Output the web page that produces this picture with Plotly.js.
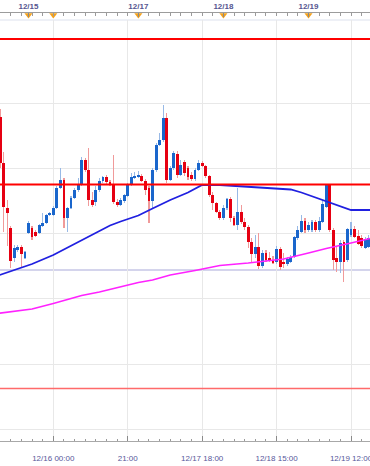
<!DOCTYPE html>
<html>
<head>
<meta charset="utf-8">
<script src="https://cdn.plot.ly/plotly-3.0.1.min.js"></script>
<style>
html,body{margin:0;padding:0;background:#ffffff;}
#chart{width:370px;height:466px;}
</style>
</head>
<body>
<div id="chart"></div>
<script>
// Hourly bars, index = hours from 12/16 00:00 (weekend gap removed)
const barStart = -15;

const opens = [109.844,109.752,109.662,109.622,109.562,109.578,109.584,109.562,109.612,109.622,
109.614,109.612,109.626,109.632,109.648,109.648,109.662,109.702,109.718,109.642,
109.662,109.682,109.698,109.708,109.758,109.738,109.678,109.674,109.698,109.716,
109.724,109.714,109.708,109.674,109.668,109.676,109.686,109.708,109.722,109.724,
109.726,109.716,109.702,109.676,109.738,109.788,109.798,109.842,109.718,109.742,
109.770,109.728,109.754,109.742,109.728,109.720,109.738,109.752,109.746,109.726,
109.688,109.672,109.654,109.642,109.662,109.680,109.642,109.628,109.654,109.634,
109.624,109.594,109.570,109.584,109.546,109.572,109.562,109.558,109.554,109.580,
109.554,109.550,109.554,109.564,109.602,109.614,109.636,109.618,109.618,109.634,
109.618,109.634,109.664,109.708,109.618,109.562,109.554,109.594,109.558,109.608,
109.620,109.606,109.602,109.582,109.584];

const highs = [109.860,109.774,109.678,109.626,109.588,109.588,109.588,109.576,109.636,109.626,
109.618,109.630,109.652,109.650,109.654,109.666,109.706,109.742,109.722,109.664,
109.686,109.702,109.722,109.764,109.762,109.782,109.694,109.706,109.722,109.726,
109.728,109.718,109.768,109.680,109.682,109.690,109.712,109.732,109.734,109.736,
109.730,109.720,109.706,109.742,109.792,109.812,109.868,109.852,109.746,109.776,
109.776,109.758,109.758,109.746,109.734,109.742,109.758,109.756,109.748,109.728,
109.694,109.674,109.658,109.668,109.682,109.684,109.646,109.702,109.668,109.642,
109.628,109.602,109.608,109.612,109.578,109.578,109.574,109.566,109.586,109.584,
109.572,109.564,109.568,109.606,109.626,109.648,109.642,109.634,109.638,109.638,
109.644,109.678,109.710,109.710,109.622,109.584,109.598,109.598,109.622,109.634,
109.626,109.618,109.608,109.604,109.608];

const lows = [109.742,109.614,109.586,109.542,109.554,109.574,109.542,109.560,109.610,109.598,
109.604,109.610,109.624,109.630,109.646,109.646,109.660,109.700,109.622,109.614,
109.660,109.680,109.694,109.706,109.734,109.666,109.664,109.666,109.694,109.712,
109.710,109.706,109.670,109.664,109.666,109.672,109.684,109.706,109.720,109.722,
109.714,109.688,109.632,109.662,109.734,109.786,109.794,109.712,109.716,109.738,
109.722,109.726,109.726,109.718,109.716,109.716,109.736,109.744,109.722,109.684,
109.658,109.652,109.638,109.638,109.658,109.634,109.626,109.618,109.630,109.618,
109.582,109.554,109.562,109.540,109.542,109.554,109.554,109.550,109.550,109.538,
109.542,109.546,109.552,109.562,109.598,109.612,109.612,109.614,109.614,109.614,
109.614,109.632,109.662,109.614,109.538,109.534,109.532,109.514,109.554,109.604,
109.602,109.588,109.582,109.580,109.582];

const closes = [109.752,109.664,109.652,109.556,109.582,109.584,109.570,109.574,109.632,109.604,
109.606,109.628,109.632,109.648,109.652,109.662,109.702,109.718,109.642,109.662,
109.682,109.698,109.708,109.758,109.738,109.678,109.668,109.698,109.716,109.724,
109.714,109.708,109.674,109.668,109.678,109.688,109.708,109.724,109.726,109.728,
109.716,109.698,109.676,109.738,109.788,109.798,109.842,109.718,109.742,109.772,
109.728,109.748,109.732,109.724,109.720,109.738,109.752,109.746,109.726,109.688,
109.672,109.654,109.642,109.662,109.680,109.642,109.628,109.654,109.634,109.624,
109.594,109.570,109.584,109.546,109.572,109.558,109.556,109.552,109.580,109.544,
109.550,109.560,109.564,109.604,109.618,109.636,109.618,109.628,109.634,109.618,
109.636,109.670,109.708,109.618,109.558,109.554,109.592,109.554,109.620,109.620,
109.604,109.590,109.586,109.600,109.602];

// Moving averages
const maBlueX = [-16,-10,-6,0,5,10,13,16,19,24,28,33,38,41,42,47,52,55,61,67,70,76,81,84,90];
const maBlueY = [109.526,109.541,109.550,109.568,109.586,109.604,109.616,109.627,109.635,109.647,
109.661,109.678,109.693,109.705,109.708,109.708,109.706,109.705,109.702,109.699,
109.693,109.678,109.666,109.658,109.658];

const maPinkX = [-16,-6,0,8,13,20,24,28,33,40,47,55,65,72,77,84,90];
const maPinkY = [109.451,109.460,109.471,109.487,109.494,109.507,109.513,109.518,109.528,109.537,
109.547,109.552,109.560,109.572,109.581,109.592,109.602];

// Horizontal levels
const redLevels = [110.000, 109.709];
const lowRedLevel = 109.301;
const purpleLevel = 109.538;

// Axis labels
const bottomTickPos = [0, 21, 42, 63, 84];
const bottomTickText = ['12/16 00:00', '21:00', '12/17 18:00', '12/18 15:00', '12/19 12:00'];
const dayMarkPos = [-7, 0, 24, 48, 72];
const dayLabelPos = [-7, 24, 48, 72];
const dayLabelText = ['12/15', '12/17', '12/18', '12/19'];

const xRange = [-15.04, 89.36];
const yRange = [109.196, 110.038];

const bars = opens.map((_, i) => barStart + i);
const up = closes.map((c, i) => c >= opens[i]);
const bodyBase = opens.map((o, i) => Math.min(o, closes[i]));
const bodyLen = opens.map((o, i) => Math.abs(closes[i] - o));
const wickLen = highs.map((h, i) => h - lows[i]);

const traces = [
  {type:'bar', x:bars, y:wickLen, base:lows, width:0.32,
   marker:{color: up.map(u => u ? '#98b9e6' : '#f09a9a'), line:{width:0}}, hoverinfo:'skip'},
  {type:'bar', x:bars, y:bodyLen, base:bodyBase, width:0.8,
   marker:{color: up.map(u => u ? '#1a66cc' : '#e60012'), line:{width:0}}, hoverinfo:'skip'},
  {type:'scatter', mode:'lines', x:maPinkX, y:maPinkY, line:{color:'#ff22ff', width:1.6}, hoverinfo:'skip'},
  {type:'scatter', mode:'lines', x:maBlueX, y:maBlueY, line:{color:'#2020e0', width:1.8}, hoverinfo:'skip'},
  {type:'scatter', mode:'markers', x:dayMarkPos, y:dayMarkPos.map(() => 0.993),
   xaxis:'x2', yaxis:'y2', cliponaxis:false,
   marker:{symbol:'triangle-down', size:7, color:'#f5a21b', line:{width:0}}, hoverinfo:'skip'}
];

const shapes = [];
redLevels.forEach(v => shapes.push({type:'line', xref:'paper', x0:0, x1:1, yref:'y', y0:v, y1:v,
  line:{color:'#ff0000', width:2}}));
shapes.push({type:'line', xref:'paper', x0:0, x1:1, yref:'y', y0:lowRedLevel, y1:lowRedLevel,
  line:{color:'#ff6a6a', width:1.5}});
shapes.push({type:'line', xref:'paper', x0:0, x1:1, yref:'y', y0:purpleLevel, y1:purpleLevel,
  line:{color:'#a9a9d9', width:1.2}, layer:'below'});
shapes.push({type:'line', xref:'paper', x0:0, x1:1, yref:'paper', y0:0.98135, y1:0.98135,
  line:{color:'#dde2ee', width:1}, layer:'below'});

const labelFont = {family:'"Liberation Sans", Arial, sans-serif', size:8, color:'#56569a'};

const layout = {
  width:370, height:466,
  margin:{l:0, r:0, t:12, b:25, pad:0},
  paper_bgcolor:'#ffffff', plot_bgcolor:'rgba(0,0,0,0)',
  showlegend:false, barmode:'overlay', bargap:0,
  xaxis:{range:xRange, tickmode:'array', tickvals:bottomTickPos, ticktext:bottomTickText,
    ticks:'inside', ticklen:5, tickcolor:'#8a8a8a', showline:true, linecolor:'#a8a8a8', linewidth:1,
    showgrid:true, gridcolor:'#e8e8e8', gridwidth:1, zeroline:false,
    tickfont:labelFont, ticklabelstandoff:9, ticklabeloverflow:'allow',
    minor:{tickmode:'linear', tick0:0, dtick:3, ticks:'inside', ticklen:2, tickcolor:'#9a9a9a', showgrid:false},
    fixedrange:true},
  xaxis2:{range:xRange, anchor:'free', position:1, side:'top', tickmode:'array',
    tickvals:dayLabelPos, ticktext:dayLabelText, ticks:'inside', ticklen:4, tickcolor:'#8a8a8a',
    showline:true, linecolor:'#9c9c9c', linewidth:1, showgrid:false, zeroline:false,
    tickfont:{family:'"Liberation Sans", Arial, sans-serif', size:8, color:'#55558f', weight:'bold'},
    ticklabeloverflow:'allow',
    minor:{tickmode:'linear', tick0:0, dtick:3, ticks:'inside', ticklen:3, tickcolor:'#9a9a9a', showgrid:false},
    fixedrange:true},
  yaxis:{domain:[0, 0.98135], range:yRange, showticklabels:false, ticks:'',
    tickmode:'linear', tick0:109.8714, dtick:0.1304, showgrid:true, gridcolor:'#e8e8e8', gridwidth:1,
    zeroline:false, showline:false, fixedrange:true},
  yaxis2:{domain:[0, 1], range:[0, 1], visible:false, anchor:'x2', fixedrange:true},
  shapes:shapes
};

Plotly.newPlot('chart', traces, layout, {staticPlot:true, displayModeBar:false});
</script>
</body>
</html>
